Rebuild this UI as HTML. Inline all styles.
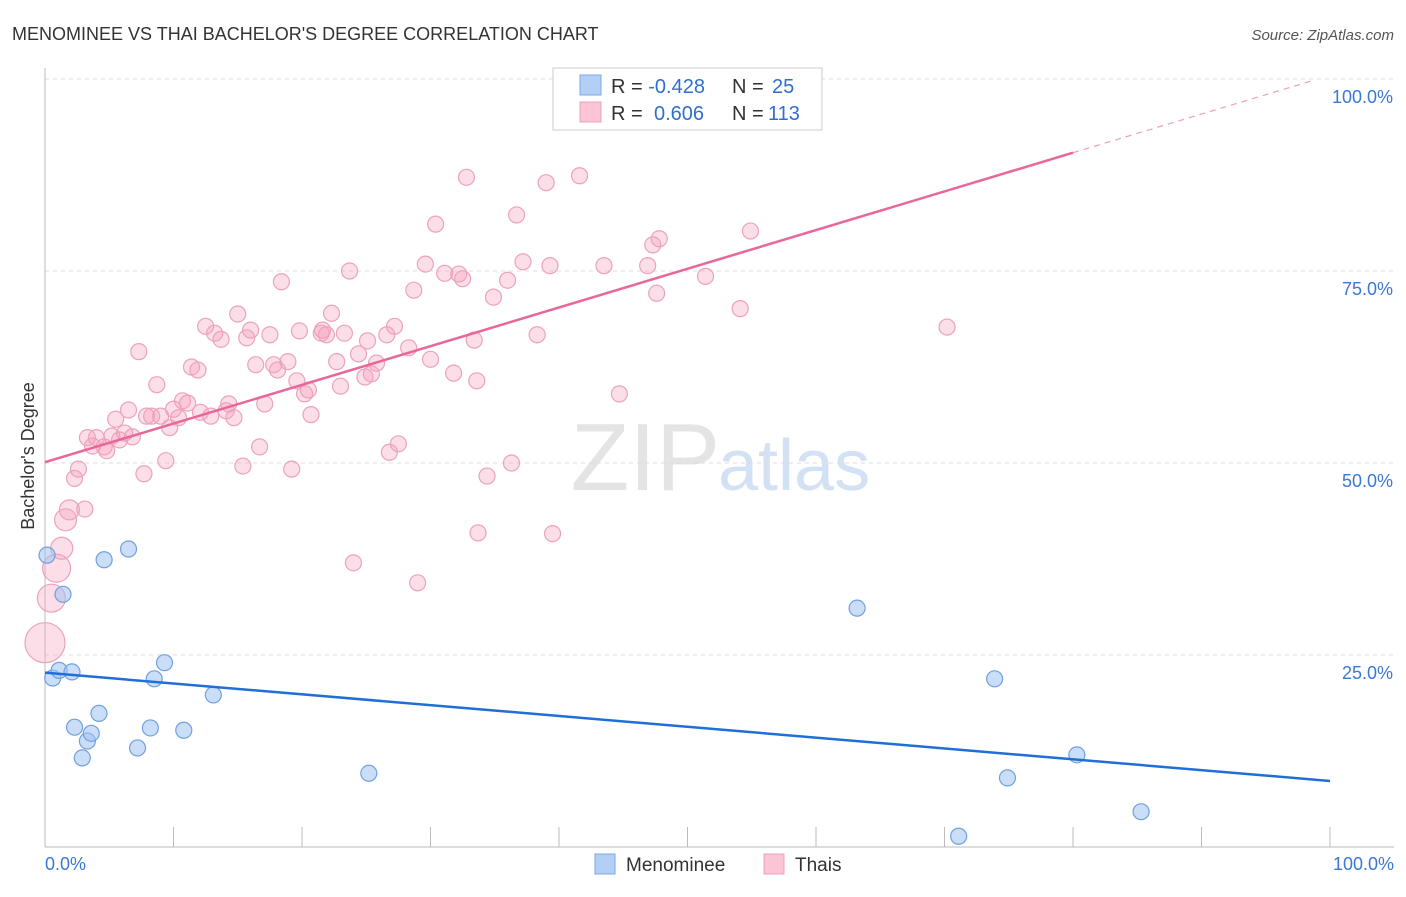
<!DOCTYPE html>
<html><head><meta charset="utf-8"><style>
body{margin:0;background:#fff;font-family:"Liberation Sans",sans-serif}
svg text{font-family:"Liberation Sans",sans-serif}
</style></head><body>
<svg id="c" width="1406" height="892" xmlns="http://www.w3.org/2000/svg">
<text x="12" y="40" font-size="18" fill="#333">MENOMINEE VS THAI BACHELOR'S DEGREE CORRELATION CHART</text>
<text x="1394" y="40" font-size="15" fill="#555" text-anchor="end" font-style="italic">Source: ZipAtlas.com</text>
<text x="720" y="490" font-size="96" fill="#e4e4e4" text-anchor="end" font-family="Liberation Serif">ZIP</text>
<text x="718" y="490" font-size="72" fill="#d3e1f5">atlas</text>
<text transform="translate(34,456) rotate(-90)" font-size="18" fill="#333" text-anchor="middle">Bachelor's Degree</text>
<g id="grid"></g><g id="pts"></g><g id="lines"></g>
<g>
<rect x="553" y="68" width="269" height="62" fill="#fff" stroke="#ccc"/>
<rect x="580" y="75" width="21" height="20" fill="#b4cff5" stroke="#7aaae8"/>
<rect x="580" y="102" width="21" height="20" fill="#fcc5d5" stroke="#eea0b8"/>
<text x="611" y="93" font-size="20" fill="#333">R = <tspan fill="#2f6fd0">-0.428</tspan><tspan x="732">N = </tspan><tspan x="772" fill="#2f6fd0">25</tspan></text>
<text x="611" y="120" font-size="20" fill="#333">R = <tspan x="654" fill="#2f6fd0">0.606</tspan><tspan x="732">N = </tspan><tspan x="768" fill="#2f6fd0">113</tspan></text>
</g>
<g>
<rect x="595" y="854" width="20" height="20" fill="#b4cff5" stroke="#7aaae8"/>
<text x="626" y="871" font-size="19" fill="#333">Menominee</text>
<rect x="764" y="854" width="20" height="20" fill="#fcc5d5" stroke="#eea0b8"/>
<text x="795" y="871" font-size="19" fill="#333">Thais</text>
</g>
<text x="45" y="870" font-size="18" fill="#3a78d4">0.0%</text>
<text x="1394" y="870" font-size="18" fill="#3a78d4" text-anchor="end">100.0%</text>
</svg>
<script>
const yTicks=[25,50,75,100];
const yTickLabels=["25.0%","50.0%","75.0%","100.0%"];
const blueX=[0.16,1.4,0.6,1.1,2.1,4.6,6.5,2.3,3.3,3.6,2.9,4.2,7.2,8.2,8.5,9.3,10.8,13.1,25.2,63.2,73.9,74.9,80.3,71.1,85.3];
const blueY=[38.0,32.9,22.0,23.0,22.8,37.4,38.8,15.6,13.8,14.8,11.6,17.4,12.9,15.5,21.9,24.0,15.2,19.8,9.6,31.1,21.9,9.0,12.0,1.4,4.6];
const pinkX=[0.0,0.5,0.9,1.3,1.6,1.9,3.1,2.3,2.6,3.3,4.0,3.7,4.6,4.8,5.2,5.5,5.8,6.2,6.5,6.8,7.7,7.3,7.9,8.3,8.7,9.0,9.4,9.7,10.0,10.4,10.7,11.1,11.4,11.9,12.1,12.5,12.9,13.2,13.7,14.1,14.3,14.7,15.0,15.4,15.7,16.0,16.4,16.7,17.1,17.5,17.8,18.1,18.4,18.9,19.2,19.6,19.8,20.2,20.5,20.7,21.5,21.6,21.9,22.3,22.7,23.0,23.3,23.7,24.0,24.4,24.9,25.1,25.4,25.8,26.6,26.8,27.2,27.5,28.3,28.7,29.0,29.6,30.0,30.4,31.1,31.8,32.2,32.5,32.8,33.4,33.7,33.6,34.4,34.9,36.0,36.3,36.7,37.2,38.3,39.0,39.3,39.5,41.6,43.5,44.7,46.9,47.3,47.6,47.8,51.4,54.1,54.9,70.2];
const pinkY=[26.6,32.4,36.3,38.9,42.6,43.9,44.0,48.0,49.2,53.3,53.3,52.2,52.1,51.6,53.5,55.7,53.0,53.9,56.9,53.4,48.6,64.5,56.1,56.1,60.2,56.1,50.3,54.6,57.0,55.9,58.1,57.8,62.5,62.1,56.6,67.8,56.1,66.9,66.1,56.8,57.7,55.9,69.4,49.6,66.3,67.3,62.8,52.1,57.7,66.7,62.8,62.1,73.6,63.2,49.2,60.7,67.2,59.0,59.5,56.3,66.9,67.3,66.7,69.5,63.2,60.0,66.9,75.0,37.0,64.2,61.2,65.9,61.6,63.0,66.7,51.4,67.8,52.5,65.0,72.5,34.4,75.9,63.5,81.1,74.7,61.7,74.6,74.0,87.2,66.0,40.9,60.7,48.3,71.6,73.8,50.0,82.3,76.2,66.7,86.5,75.7,40.8,87.4,75.7,59.0,75.7,78.4,72.1,79.2,74.3,70.1,80.2,67.7];
const pinkSize=[20,14,14,11,11,10];
const blueFit=[22.7,8.6];
const pinkFit=[50.1,90.4];
const NS="http://www.w3.org/2000/svg";
const X0=45,X1=1330,Y0=847,Y100=79;
const sx=v=>X0+(X1-X0)*v/100, sy=v=>Y0-(Y0-Y100)*v/100;
function mk(t,a,p){const e=document.createElementNS(NS,t);for(const k in a)e.setAttribute(k,a[k]);p.appendChild(e);return e;}
const g=document.getElementById('grid');
yTicks.forEach((t,i)=>{
 const l=mk('line',{x1:X0,x2:1394,y1:sy(t),y2:sy(t),stroke:'#ddd','stroke-dasharray':'4,4'},g);
 
 
 const tx=mk('text',{x:1393,y:sy(t)+24,'font-size':18,fill:'#3a78d4','text-anchor':'end'},g);
 tx.textContent=yTickLabels[i];
 
 
});
mk('line',{x1:X0,x2:X0,y1:68,y2:Y0,stroke:'#bbb'},g);
mk('line',{x1:X0,x2:1394,y1:Y0,y2:Y0,stroke:'#bbb'},g);
for(let i=0;i<=10;i++){const t=mk('line',{x1:sx(i*10),x2:sx(i*10),y1:Y0,y2:Y0-20,stroke:'#bbb'},g);
 
 }
const p=document.getElementById('pts');
pinkX.forEach((x,i)=>{const c=mk('circle',{cx:sx(x),cy:sy(pinkY[i]),r:pinkSize[i]||8,fill:'rgba(245,160,190,0.35)',stroke:'#eca2bb','stroke-width':1.2},p);
 
 });
blueX.forEach((x,i)=>{const c=mk('circle',{cx:sx(x),cy:sy(blueY[i]),r:8,fill:'rgba(160,195,240,0.55)',stroke:'#6fa0e0','stroke-width':1.2},p);
 
 });
const L=document.getElementById('lines');
const bl=mk('line',{x1:sx(0),y1:sy(blueFit[0]),x2:sx(100),y2:sy(blueFit[1]),stroke:'#1f6fd6','stroke-width':2.5},L);


const pl=mk('line',{x1:sx(0),y1:sy(pinkFit[0]),x2:sx(80),y2:sy(pinkFit[1]),stroke:'#e8679a','stroke-width':2.5},L);


const slope=(pinkFit[1]-pinkFit[0])/80;
const pd=mk('line',{x1:sx(80),y1:sy(pinkFit[1]),x2:sx(98.5),y2:sy(pinkFit[0]+slope*98.5),stroke:'#eea0b8','stroke-width':1.2,'stroke-dasharray':'6,5'},L);


</script>
</body></html>
